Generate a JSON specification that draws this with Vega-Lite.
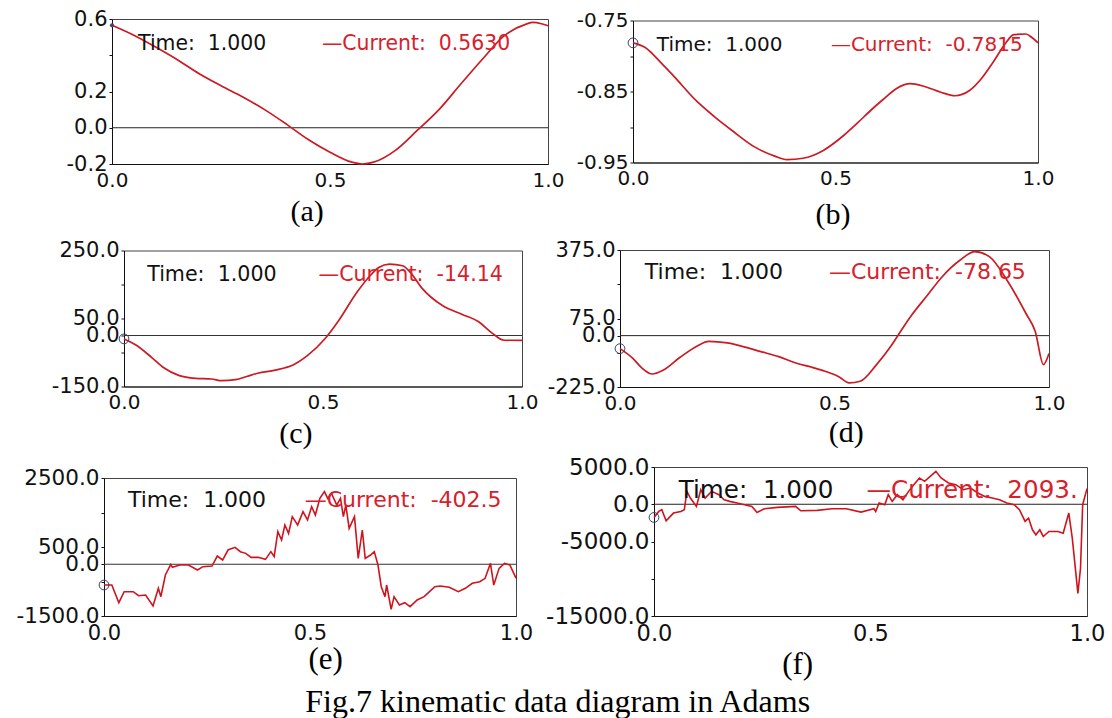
{
  "$schema": "https://vega.github.io/schema/vega-lite/v6.json",
  "background": "white",
  "padding": {"left": 0, "top": 6, "right": 4, "bottom": 0},
  "title": {"text": "Fig.7 kinematic data diagram in Adams", "orient": "bottom", "anchor": "middle", "font": "Liberation Serif", "fontSize": 32, "fontWeight": "normal", "color": "#000", "offset": 7, "dx": 5},
  "config": {
    "view": {"stroke": "#444", "strokeWidth": 1},
    "axis": {"grid": false, "labelFont": "DejaVu Sans", "labelColor": "#111", "domainColor": "#111", "tickColor": "#111", "titleFont": "Liberation Serif", "titleFontWeight": "normal", "titleColor": "#000", "labelFlush": false, "labelOverlap": false},
    "axisX": {"ticks": false, "labelPadding": 6},
    "axisY": {"tickSize": 3, "labelPadding": 2}
  },
  "datasets": {
    "a": [
      {"time": 0, "value": 0.565}, {"time": 0.05, "value": 0.51}, {"time": 0.1, "value": 0.445}, {"time": 0.15, "value": 0.375},
      {"time": 0.2, "value": 0.298}, {"time": 0.25, "value": 0.232}, {"time": 0.3, "value": 0.17}, {"time": 0.35, "value": 0.1},
      {"time": 0.4, "value": 0.02}, {"time": 0.45, "value": -0.065}, {"time": 0.5, "value": -0.135}, {"time": 0.55, "value": -0.19},
      {"time": 0.575, "value": -0.2}, {"time": 0.6, "value": -0.19}, {"time": 0.65, "value": -0.125}, {"time": 0.7, "value": -0.015},
      {"time": 0.75, "value": 0.1}, {"time": 0.8, "value": 0.241}, {"time": 0.85, "value": 0.379}, {"time": 0.9, "value": 0.508},
      {"time": 0.95, "value": 0.572}, {"time": 0.965, "value": 0.581}, {"time": 0.985, "value": 0.574}, {"time": 1.0, "value": 0.563}
    ],
    "b": [
      {"time": 0, "value": -0.7815}, {"time": 0.03, "value": -0.788}, {"time": 0.07, "value": -0.81}, {"time": 0.1, "value": -0.828},
      {"time": 0.158, "value": -0.864}, {"time": 0.2, "value": -0.885}, {"time": 0.247, "value": -0.906}, {"time": 0.3, "value": -0.928},
      {"time": 0.35, "value": -0.941}, {"time": 0.38, "value": -0.946}, {"time": 0.42, "value": -0.944}, {"time": 0.47, "value": -0.933},
      {"time": 0.52, "value": -0.912}, {"time": 0.553, "value": -0.895}, {"time": 0.59, "value": -0.875}, {"time": 0.616, "value": -0.862},
      {"time": 0.65, "value": -0.846}, {"time": 0.684, "value": -0.839}, {"time": 0.72, "value": -0.843}, {"time": 0.76, "value": -0.851},
      {"time": 0.795, "value": -0.856}, {"time": 0.83, "value": -0.849}, {"time": 0.86, "value": -0.832}, {"time": 0.89, "value": -0.808},
      {"time": 0.92, "value": -0.782}, {"time": 0.94, "value": -0.77}, {"time": 0.97, "value": -0.769}, {"time": 0.985, "value": -0.774},
      {"time": 1.0, "value": -0.7815}
    ],
    "c": [
      {"time": 0, "value": -10}, {"time": 0.03, "value": -28}, {"time": 0.07, "value": -65}, {"time": 0.1, "value": -95},
      {"time": 0.139, "value": -118}, {"time": 0.18, "value": -126}, {"time": 0.22, "value": -128}, {"time": 0.246, "value": -133},
      {"time": 0.28, "value": -130}, {"time": 0.31, "value": -120}, {"time": 0.336, "value": -111}, {"time": 0.38, "value": -102},
      {"time": 0.426, "value": -86}, {"time": 0.46, "value": -60}, {"time": 0.506, "value": -8}, {"time": 0.54, "value": 45},
      {"time": 0.587, "value": 130}, {"time": 0.62, "value": 178}, {"time": 0.64, "value": 200}, {"time": 0.667, "value": 210},
      {"time": 0.7, "value": 205}, {"time": 0.72, "value": 185}, {"time": 0.748, "value": 140}, {"time": 0.8, "value": 88},
      {"time": 0.85, "value": 62}, {"time": 0.89, "value": 41}, {"time": 0.925, "value": 7}, {"time": 0.955, "value": -14},
      {"time": 1.0, "value": -14.14}
    ],
    "d": [
      {"time": 0, "value": -57}, {"time": 0.03, "value": -100}, {"time": 0.05, "value": -140}, {"time": 0.075, "value": -168},
      {"time": 0.1, "value": -152}, {"time": 0.14, "value": -95}, {"time": 0.18, "value": -45}, {"time": 0.207, "value": -25},
      {"time": 0.25, "value": -32}, {"time": 0.3, "value": -55}, {"time": 0.326, "value": -69}, {"time": 0.37, "value": -92},
      {"time": 0.41, "value": -120}, {"time": 0.45, "value": -140}, {"time": 0.478, "value": -156}, {"time": 0.51, "value": -180},
      {"time": 0.534, "value": -207}, {"time": 0.56, "value": -200}, {"time": 0.598, "value": -127}, {"time": 0.63, "value": -50},
      {"time": 0.649, "value": 4}, {"time": 0.68, "value": 90}, {"time": 0.717, "value": 178}, {"time": 0.751, "value": 258},
      {"time": 0.793, "value": 331}, {"time": 0.827, "value": 368}, {"time": 0.861, "value": 346}, {"time": 0.904, "value": 237},
      {"time": 0.946, "value": 98}, {"time": 0.968, "value": 18}, {"time": 0.987, "value": -127}, {"time": 1.0, "value": -78.65}
    ],
    "e": [
      {"time": 0, "value": -602}, {"time": 0.019, "value": -600}, {"time": 0.036, "value": -1114}, {"time": 0.049, "value": -795},
      {"time": 0.071, "value": -795}, {"time": 0.084, "value": -911}, {"time": 0.101, "value": -892}, {"time": 0.119, "value": -1210},
      {"time": 0.132, "value": -698}, {"time": 0.138, "value": -940}, {"time": 0.149, "value": -312}, {"time": 0.162, "value": -3},
      {"time": 0.166, "value": -90}, {"time": 0.184, "value": -22}, {"time": 0.205, "value": -22}, {"time": 0.227, "value": -167},
      {"time": 0.24, "value": -70}, {"time": 0.262, "value": -51}, {"time": 0.275, "value": 239}, {"time": 0.288, "value": 123},
      {"time": 0.301, "value": 413}, {"time": 0.318, "value": 490}, {"time": 0.331, "value": 365}, {"time": 0.344, "value": 316},
      {"time": 0.357, "value": 200}, {"time": 0.374, "value": 200}, {"time": 0.392, "value": 142}, {"time": 0.405, "value": 365},
      {"time": 0.413, "value": 220}, {"time": 0.422, "value": 944}, {"time": 0.431, "value": 703}, {"time": 0.439, "value": 1138},
      {"time": 0.448, "value": 896}, {"time": 0.457, "value": 1379}, {"time": 0.47, "value": 1138}, {"time": 0.483, "value": 1524},
      {"time": 0.494, "value": 1283}, {"time": 0.504, "value": 1669}, {"time": 0.513, "value": 1427}, {"time": 0.524, "value": 1910},
      {"time": 0.535, "value": 2104}, {"time": 0.543, "value": 1910}, {"time": 0.552, "value": 2056}, {"time": 0.565, "value": 1717},
      {"time": 0.574, "value": 1910}, {"time": 0.581, "value": 1379}, {"time": 0.587, "value": 1717}, {"time": 0.595, "value": 1041},
      {"time": 0.608, "value": 1379}, {"time": 0.617, "value": 171}, {"time": 0.627, "value": 993}, {"time": 0.634, "value": 171},
      {"time": 0.647, "value": 268}, {"time": 0.656, "value": 365}, {"time": 0.665, "value": -22}, {"time": 0.673, "value": -650},
      {"time": 0.682, "value": -940}, {"time": 0.686, "value": -602}, {"time": 0.697, "value": -1307}, {"time": 0.704, "value": -940},
      {"time": 0.717, "value": -1181}, {"time": 0.73, "value": -1114}, {"time": 0.743, "value": -1230}, {"time": 0.76, "value": -1036},
      {"time": 0.777, "value": -940}, {"time": 0.79, "value": -795}, {"time": 0.803, "value": -650}, {"time": 0.816, "value": -630},
      {"time": 0.838, "value": -669}, {"time": 0.86, "value": -795}, {"time": 0.877, "value": -698}, {"time": 0.894, "value": -553},
      {"time": 0.912, "value": -505}, {"time": 0.925, "value": -408}, {"time": 0.938, "value": 26}, {"time": 0.946, "value": -602},
      {"time": 0.959, "value": -118}, {"time": 0.972, "value": 26}, {"time": 0.985, "value": -22}, {"time": 1.0, "value": -402.5}
    ],
    "f": [
      {"time": 0, "value": -1769}, {"time": 0.011, "value": -962}, {"time": 0.018, "value": -737}, {"time": 0.028, "value": -2218},
      {"time": 0.045, "value": -1186}, {"time": 0.062, "value": -962}, {"time": 0.07, "value": -737}, {"time": 0.076, "value": 1730},
      {"time": 0.084, "value": 833}, {"time": 0.098, "value": -289}, {"time": 0.108, "value": 1954}, {"time": 0.118, "value": 833},
      {"time": 0.133, "value": 1730}, {"time": 0.15, "value": 1281}, {"time": 0.162, "value": 608}, {"time": 0.175, "value": 384},
      {"time": 0.192, "value": 160}, {"time": 0.209, "value": -65}, {"time": 0.226, "value": -289}, {"time": 0.238, "value": -1096},
      {"time": 0.255, "value": -603}, {"time": 0.285, "value": -424}, {"time": 0.327, "value": -289}, {"time": 0.339, "value": -872},
      {"time": 0.377, "value": -827}, {"time": 0.411, "value": -603}, {"time": 0.444, "value": -603}, {"time": 0.478, "value": -1051},
      {"time": 0.508, "value": -603}, {"time": 0.512, "value": -962}, {"time": 0.52, "value": 160}, {"time": 0.533, "value": -65},
      {"time": 0.541, "value": 1281}, {"time": 0.55, "value": 384}, {"time": 0.562, "value": 1281}, {"time": 0.575, "value": 608},
      {"time": 0.588, "value": 1730}, {"time": 0.6, "value": 2627}, {"time": 0.613, "value": 3524}, {"time": 0.625, "value": 3076},
      {"time": 0.638, "value": 3749}, {"time": 0.651, "value": 4421}, {"time": 0.663, "value": 3524}, {"time": 0.68, "value": 2851},
      {"time": 0.697, "value": 2627}, {"time": 0.714, "value": 1954}, {"time": 0.731, "value": 2178}, {"time": 0.748, "value": 1506},
      {"time": 0.764, "value": 1057}, {"time": 0.781, "value": 833}, {"time": 0.798, "value": 608}, {"time": 0.815, "value": 160},
      {"time": 0.832, "value": -65}, {"time": 0.844, "value": -737}, {"time": 0.857, "value": -2307}, {"time": 0.865, "value": -1859},
      {"time": 0.874, "value": -3429}, {"time": 0.882, "value": -4102}, {"time": 0.891, "value": -3429}, {"time": 0.899, "value": -4326},
      {"time": 0.912, "value": -3654}, {"time": 0.933, "value": -3654}, {"time": 0.945, "value": -3878}, {"time": 0.958, "value": -1186},
      {"time": 0.966, "value": -4550}, {"time": 0.979, "value": -11953}, {"time": 0.985, "value": -8588}, {"time": 0.99, "value": -65},
      {"time": 1.0, "value": 2093}
    ]
  },
  "vconcat": [
    {
      "hconcat": [
        {"width": 111.4, "height": 1, "data": {"values": []}, "mark": {"type": "point", "opacity": 0}, "view": {"stroke": null}},
        {
          "width": 436, "height": 145,
          "data": {"name": "a"},
          "layer": [
            {"data": {"values": [{}]}, "mark": {"type": "rule", "color": "#222", "strokeWidth": 1}, "encoding": {"y": {"datum": 0}}},
            {"mark": {"type": "line", "color": "#cc1a22", "strokeWidth": 1.7, "interpolate": "monotone"},
             "encoding": {
               "x": {"field": "time", "type": "quantitative", "scale": {"domain": [0, 1], "nice": false},
                     "axis": {"values": [0, 0.5, 1], "tickCount": 20, "format": ".1f", "labelFontSize": 20, "labelOverlap": false, "title": "(a)", "titleFontSize": 30, "titleX": 194.6, "titleY": 47.7, "titleBaseline": "middle", "titleAlign": "center"}},
               "y": {"field": "value", "type": "quantitative", "scale": {"domain": [-0.2, 0.6], "nice": false, "zero": false},
                     "axis": {"values": [-0.2, 0, 0.2, 0.4, 0.6], "tickCount": 20, "format": ".1f", "labelFontSize": 21, "labelOverlap": false,
                              "labelExpr": "abs(datum.value - 0.4) < 1e-6 ? '' : replace(datum.label, '\u2212', '-')",
                              "title": "\u00a0", "titleX": -100, "titleY": -12, "titleAngle": 0, "titleAlign": "left", "titleBaseline": "top", "titleFontSize": 2, "titleOpacity": 0}}
             }},
            {"transform": [{"filter": "datum.time == 0"}], "mark": {"type": "point", "shape": "circle", "filled": true, "size": 18, "color": "#5b3a7a", "opacity": 1},
             "encoding": {"x": {"field": "time", "type": "quantitative"}, "y": {"field": "value", "type": "quantitative"}}},
            {"data": {"values": [{}]}, "mark": {"type": "text", "text": "Time:\u00a0 1.000", "align": "left", "baseline": "middle", "font": "DejaVu Sans", "fontSize": 20.4, "color": "#111"},
             "encoding": {"x": {"datum": 0.0598}, "y": {"datum": 0.462}}},
            {"data": {"values": [{}]}, "mark": {"type": "text", "text": "\u2014Current:\u00a0 0.5630", "align": "left", "baseline": "middle", "font": "DejaVu Sans", "fontSize": 20.4, "color": "#d8202a"},
             "encoding": {"x": {"datum": 0.4816}, "y": {"datum": 0.462}}}
          ]
        },
        {"width": 85, "height": 1, "data": {"values": []}, "mark": {"type": "point", "opacity": 0}, "view": {"stroke": null}},
        {
          "width": 405, "height": 142,
          "data": {"name": "b"},
          "layer": [
            {"mark": {"type": "line", "color": "#cc1a22", "strokeWidth": 1.7, "interpolate": "monotone"},
             "encoding": {
               "x": {"field": "time", "type": "quantitative", "scale": {"domain": [0, 1], "nice": false},
                     "axis": {"values": [0, 0.5, 1], "tickCount": 20, "format": ".1f", "labelFontSize": 20, "labelOverlap": false, "title": "(b)", "titleFontSize": 30, "titleX": 199.6, "titleY": 52.3, "titleBaseline": "middle", "titleAlign": "center"}},
               "y": {"field": "value", "type": "quantitative", "scale": {"domain": [-0.95, -0.75], "nice": false, "zero": false},
                     "axis": {"values": [-0.95, -0.9, -0.85, -0.8, -0.75], "tickCount": 20, "format": ".2f", "labelFontSize": 20, "labelOverlap": false,
                              "labelExpr": "(abs(datum.value + 0.9) < 1e-6 || abs(datum.value + 0.8) < 1e-6) ? '' : replace(datum.label, '\u2212', '-')",
                              "title": null}}
             }},
            {"transform": [{"filter": "datum.time == 0"}], "mark": {"type": "point", "shape": "circle", "filled": false, "size": 95, "color": "#3c3c6e", "strokeWidth": 1, "opacity": 1},
             "encoding": {"x": {"field": "time", "type": "quantitative"}, "y": {"field": "value", "type": "quantitative"}}},
            {"data": {"values": [{}]}, "mark": {"type": "text", "text": "Time:\u00a0 1.000", "align": "left", "baseline": "middle", "font": "DejaVu Sans", "fontSize": 20, "color": "#111"},
             "encoding": {"x": {"datum": 0.0588}, "y": {"datum": -0.784}}},
            {"data": {"values": [{}]}, "mark": {"type": "text", "text": "\u2014Current:\u00a0 -0.7815", "align": "left", "baseline": "middle", "font": "DejaVu Sans", "fontSize": 20, "color": "#d8202a"},
             "encoding": {"x": {"datum": 0.4886}, "y": {"datum": -0.784}}}
          ]
        }
      ],
      "spacing": 0, "bounds": "flush", "center": true
    },
    {
      "hconcat": [
        {"width": 123.2, "height": 1, "data": {"values": []}, "mark": {"type": "point", "opacity": 0}, "view": {"stroke": null}},
        {
          "width": 398, "height": 136,
          "data": {"name": "c"},
          "layer": [
            {"data": {"values": [{}]}, "mark": {"type": "rule", "color": "#333", "strokeWidth": 1}, "encoding": {"y": {"datum": 0}}},
            {"mark": {"type": "line", "color": "#cc1a22", "strokeWidth": 1.7, "interpolate": "monotone"},
             "encoding": {
               "x": {"field": "time", "type": "quantitative", "scale": {"domain": [0, 1], "nice": false},
                     "axis": {"values": [0, 0.5, 1], "tickCount": 20, "format": ".1f", "labelFontSize": 20, "labelOverlap": false, "title": "(c)", "titleFontSize": 30, "titleX": 171.4, "titleY": 47, "titleBaseline": "middle", "titleAlign": "center"}},
               "y": {"field": "value", "type": "quantitative", "scale": {"domain": [-150, 250], "nice": false, "zero": false},
                     "axis": {"values": [-150, -50, 0, 50, 150, 250], "tickCount": 20, "format": ".1f", "labelFontSize": 21, "labelOverlap": false,
                              "labelExpr": "(datum.value == -50 || datum.value == 150) ? '' : replace(datum.label, '\u2212', '-')",
                              "title": "\u00a0", "titleX": -100, "titleY": -15, "titleAngle": 0, "titleAlign": "left", "titleBaseline": "top", "titleFontSize": 2, "titleOpacity": 0}}
             }},
            {"transform": [{"filter": "datum.time == 0"}], "mark": {"type": "point", "shape": "circle", "filled": false, "size": 95, "color": "#3c3c6e", "strokeWidth": 1, "opacity": 1},
             "encoding": {"x": {"field": "time", "type": "quantitative"}, "y": {"field": "value", "type": "quantitative"}}},
            {"data": {"values": [{}]}, "mark": {"type": "text", "text": "Time:\u00a0 1.000", "align": "left", "baseline": "middle", "font": "DejaVu Sans", "fontSize": 20.6, "color": "#111"},
             "encoding": {"x": {"datum": 0.0583}, "y": {"datum": 178.5}}},
            {"data": {"values": [{}]}, "mark": {"type": "text", "text": "\u2014Current:\u00a0 -14.14", "align": "left", "baseline": "middle", "font": "DejaVu Sans", "fontSize": 20.6, "color": "#d8202a"},
             "encoding": {"x": {"datum": 0.4888}, "y": {"datum": 178.5}}}
          ]
        },
        {"width": 97.8, "height": 1, "data": {"values": []}, "mark": {"type": "point", "opacity": 0}, "view": {"stroke": null}},
        {
          "width": 429, "height": 137,
          "data": {"name": "d"},
          "layer": [
            {"data": {"values": [{}]}, "mark": {"type": "rule", "color": "#222", "strokeWidth": 1}, "encoding": {"y": {"datum": 0}}},
            {"mark": {"type": "line", "color": "#cc1a22", "strokeWidth": 1.7, "interpolate": "monotone"},
             "encoding": {
               "x": {"field": "time", "type": "quantitative", "scale": {"domain": [0, 1], "nice": false},
                     "axis": {"values": [0, 0.5, 1], "tickCount": 20, "format": ".1f", "labelFontSize": 20, "labelOverlap": false, "title": "(d)", "titleFontSize": 30, "titleX": 225.8, "titleY": 45.3, "titleBaseline": "middle", "titleAlign": "center"}},
               "y": {"field": "value", "type": "quantitative", "scale": {"domain": [-225, 375], "nice": false, "zero": false},
                     "axis": {"values": [-225, -75, 0, 75, 225, 375], "tickCount": 20, "format": ".1f", "labelFontSize": 21, "labelOverlap": false,
                              "labelExpr": "(datum.value == -75 || datum.value == 225) ? '' : replace(datum.label, '\u2212', '-')",
                              "title": null}}
             }},
            {"transform": [{"filter": "datum.time == 0"}], "mark": {"type": "point", "shape": "circle", "filled": false, "size": 95, "color": "#3c3c6e", "strokeWidth": 1, "opacity": 1},
             "encoding": {"x": {"field": "time", "type": "quantitative"}, "y": {"field": "value", "type": "quantitative"}}},
            {"data": {"values": [{}]}, "mark": {"type": "text", "text": "Time:\u00a0 1.000", "align": "left", "baseline": "middle", "font": "DejaVu Sans", "fontSize": 22, "color": "#111"},
             "encoding": {"x": {"datum": 0.0578}, "y": {"datum": 280}}},
            {"data": {"values": [{}]}, "mark": {"type": "text", "text": "\u2014Current:\u00a0 -78.65", "align": "left", "baseline": "middle", "font": "DejaVu Sans", "fontSize": 22, "color": "#d8202a"},
             "encoding": {"x": {"datum": 0.487}, "y": {"datum": 280}}}
          ]
        }
      ],
      "spacing": 0, "bounds": "flush", "center": true
    },
    {
      "hconcat": [
        {"width": 2.9, "height": 1, "data": {"values": []}, "mark": {"type": "point", "opacity": 0}, "view": {"stroke": null}},
        {
          "vconcat": [
            {"width": 1, "height": 10.5, "data": {"values": []}, "mark": {"type": "point", "opacity": 0}, "view": {"stroke": null}},
            {
              "width": 412, "height": 138,
              "data": {"name": "e"},
              "layer": [
                {"data": {"values": [{}]}, "mark": {"type": "rule", "color": "#333", "strokeWidth": 1}, "encoding": {"y": {"datum": 0}}},
                {"mark": {"type": "line", "color": "#d0141e", "strokeWidth": 1.6},
                 "encoding": {
                   "x": {"field": "time", "type": "quantitative", "scale": {"domain": [0, 1], "nice": false},
                         "axis": {"values": [0, 0.5, 1], "tickCount": 20, "format": ".1f", "labelFontSize": 21, "labelOverlap": false, "title": "(e)", "titleFontSize": 31, "titleX": 221.1, "titleY": 43, "titleBaseline": "middle", "titleAlign": "center"}},
                   "y": {"field": "value", "type": "quantitative", "scale": {"domain": [-1500, 2500], "nice": false, "zero": false},
                         "axis": {"values": [-1500, -500, 0, 500, 1500, 2500], "tickCount": 20, "format": ".1f", "labelFontSize": 21.5, "labelOverlap": false,
                                  "labelExpr": "(datum.value == -500 || datum.value == 1500) ? '' : replace(datum.label, '\u2212', '-')",
                                  "title": "\u00a0", "titleX": -100, "titleY": -5, "titleAngle": 0, "titleAlign": "left", "titleBaseline": "top", "titleFontSize": 2, "titleOpacity": 0}}
                 }},
                {"transform": [{"filter": "datum.time == 0"}], "mark": {"type": "point", "shape": "circle", "filled": false, "size": 95, "color": "#3c3c6e", "strokeWidth": 1, "opacity": 1},
                 "encoding": {"x": {"field": "time", "type": "quantitative"}, "y": {"field": "value", "type": "quantitative"}}},
                {"data": {"values": [{}]}, "mark": {"type": "text", "text": "Time:\u00a0 1.000", "align": "left", "baseline": "middle", "font": "DejaVu Sans", "fontSize": 22, "color": "#111"},
                 "encoding": {"x": {"datum": 0.058}, "y": {"datum": 1850}}},
                {"data": {"values": [{}]}, "mark": {"type": "text", "text": "\u2014Current:\u00a0 -402.5", "align": "left", "baseline": "middle", "font": "DejaVu Sans", "fontSize": 22, "color": "#d8202a"},
                 "encoding": {"x": {"datum": 0.487}, "y": {"datum": 1850}}}
              ]
            }
          ],
          "spacing": 0, "bounds": "flush"
        },
        {"width": 6.6, "height": 1, "data": {"values": []}, "mark": {"type": "point", "opacity": 0}, "view": {"stroke": null}},
        {
          "width": 433, "height": 149,
          "data": {"name": "f"},
          "layer": [
            {"data": {"values": [{}]}, "mark": {"type": "rule", "color": "#222", "strokeWidth": 1}, "encoding": {"y": {"datum": 0}}},
            {"mark": {"type": "line", "color": "#d0141e", "strokeWidth": 1.6},
             "encoding": {
               "x": {"field": "time", "type": "quantitative", "scale": {"domain": [0, 1], "nice": false},
                     "axis": {"values": [0, 0.5, 1], "tickCount": 20, "format": ".1f", "labelFontSize": 22.5, "labelOverlap": false, "title": "(f)", "titleFontSize": 31, "titleX": 143.2, "titleY": 48.7, "titleBaseline": "middle", "titleAlign": "center"}},
               "y": {"field": "value", "type": "quantitative", "scale": {"domain": [-15000, 5000], "nice": false, "zero": false},
                     "axis": {"values": [-15000, -10000, -5000, 0, 5000], "tickCount": 20, "format": ".1f", "labelFontSize": 23, "labelOverlap": false,
                              "labelExpr": "datum.value == -10000 ? '' : replace(datum.label, '\u2212', '-')",
                              "title": "\u00a0", "titleX": -112, "titleY": -13, "titleAngle": 0, "titleAlign": "left", "titleBaseline": "top", "titleFontSize": 2, "titleOpacity": 0}}
             }},
            {"transform": [{"filter": "datum.time == 0"}], "mark": {"type": "point", "shape": "circle", "filled": false, "size": 95, "color": "#3c3c6e", "strokeWidth": 1, "opacity": 1},
             "encoding": {"x": {"field": "time", "type": "quantitative"}, "y": {"field": "value", "type": "quantitative"}}},
            {"data": {"values": [{}]}, "mark": {"type": "text", "text": "Time:\u00a0 1.000", "align": "left", "baseline": "middle", "font": "DejaVu Sans", "fontSize": 24.6, "color": "#111"},
             "encoding": {"x": {"datum": 0.0572}, "y": {"datum": 1729}}},
            {"data": {"values": [{}]}, "mark": {"type": "text", "text": "\u2014Current:\u00a0 2093.", "align": "left", "baseline": "middle", "font": "DejaVu Sans", "fontSize": 24.6, "color": "#d8202a"},
             "encoding": {"x": {"datum": 0.4907}, "y": {"datum": 1729}}}
          ]
        }
      ],
      "spacing": 0
    }
  ],
  "spacing": 4
}
